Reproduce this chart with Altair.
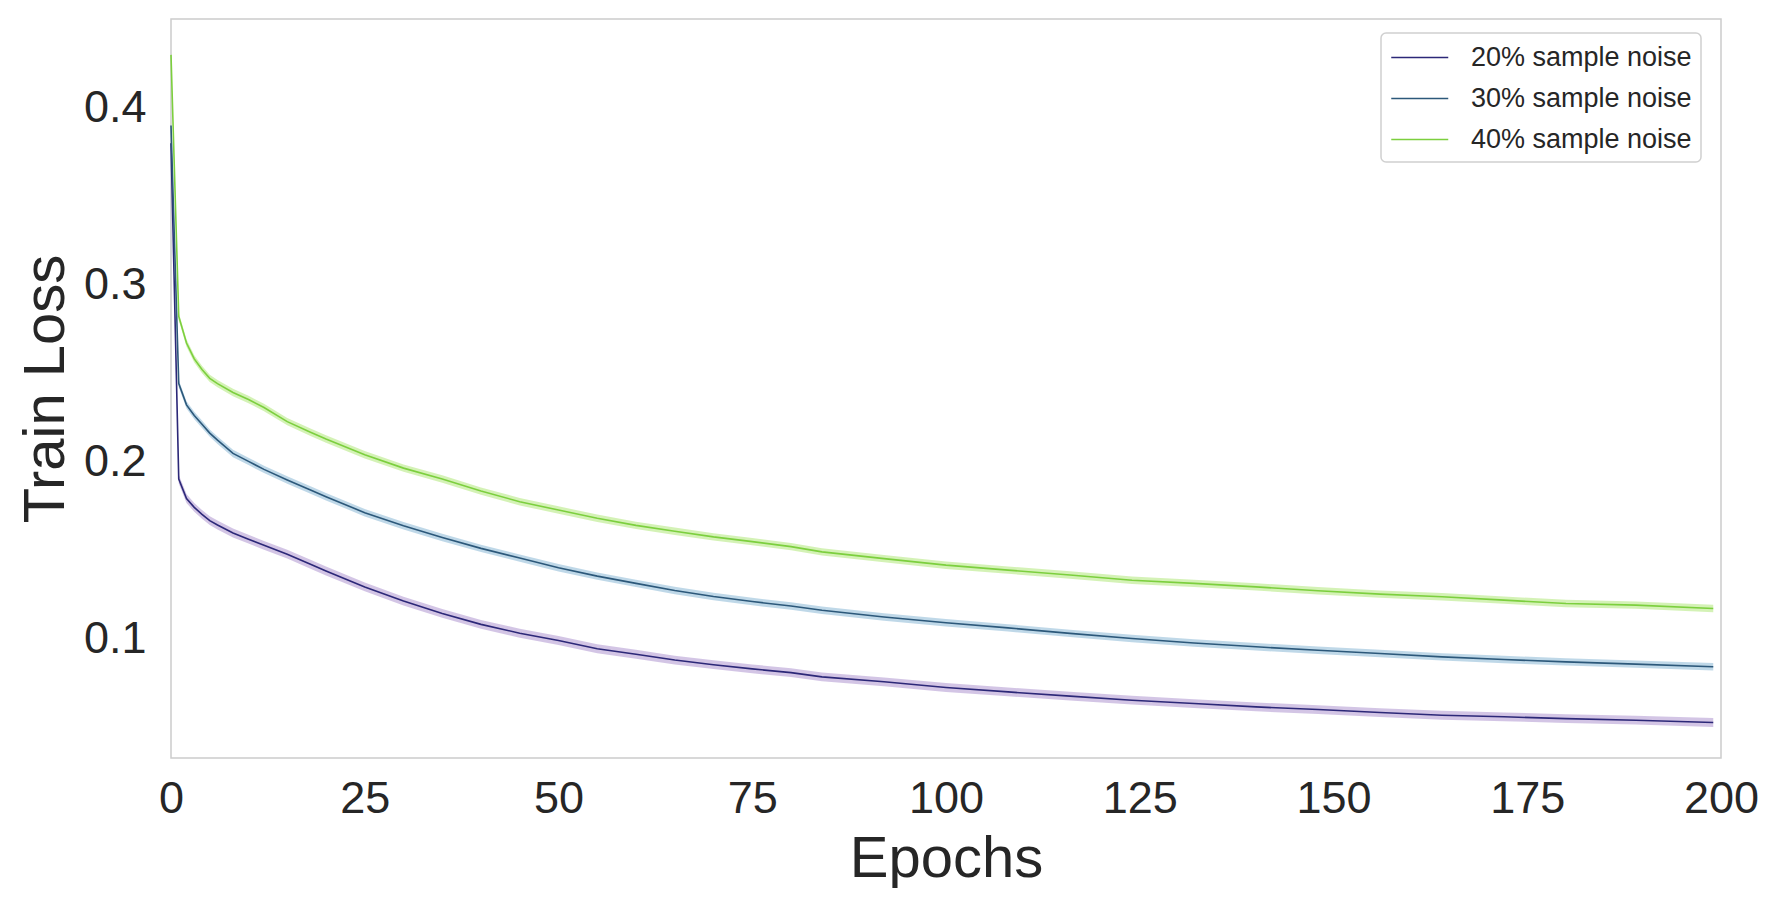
import altair as alt
import pandas as pd

# ---- data ----
series_names = ["20% sample noise", "30% sample noise", "40% sample noise"]

epochs_early = [0, 1, 2, 3, 4, 5, 6, 8, 10, 12, 15, 18, 20, 25, 30, 35, 40, 45,
                50, 55, 60, 65, 70, 75, 80]
epochs_late = [84, 92, 100, 108, 116, 124, 132, 140, 148, 156, 164, 172, 180, 189, 199]

loss20_early = [0.380, 0.190, 0.179, 0.174, 0.170, 0.1665, 0.164, 0.1595, 0.156, 0.1525,
                0.1475, 0.1418, 0.138, 0.129, 0.121, 0.114, 0.1078, 0.1028, 0.0987,
                0.0940, 0.0909, 0.0876, 0.0850, 0.0826, 0.0805]
loss30_early = [0.390, 0.244, 0.232, 0.226, 0.221, 0.216, 0.212, 0.2045, 0.200, 0.1955,
                0.1895, 0.1838, 0.180, 0.171, 0.1636, 0.157, 0.1508, 0.1453, 0.1398,
                0.1351, 0.131, 0.1270, 0.1236, 0.1207, 0.1182]
loss40_early = [0.430, 0.282, 0.267, 0.258, 0.252, 0.247, 0.244, 0.239, 0.235, 0.2305,
                0.2225, 0.2165, 0.2127, 0.2038, 0.1962, 0.190, 0.1832, 0.1772, 0.1725,
                0.1678, 0.1638, 0.1605, 0.1573, 0.1546, 0.1518]

loss20_late = [0.0781, 0.0753, 0.0721, 0.0696, 0.0672, 0.0649, 0.0630, 0.0611, 0.0596,
               0.0579, 0.0564, 0.0555, 0.0545, 0.0536, 0.0523]
loss30_late = [0.1158, 0.1120, 0.1087, 0.1058, 0.1027, 0.0998, 0.0973, 0.0951, 0.0932,
               0.0913, 0.0894, 0.0879, 0.0866, 0.0853, 0.0838]
loss40_late = [0.1488, 0.1450, 0.1413, 0.1385, 0.1357, 0.1328, 0.1310, 0.1290, 0.1268,
               0.1249, 0.1234, 0.1215, 0.1196, 0.1187, 0.1168]

band_halfwidth = [0.0025, 0.0021, 0.0021]

line_colors = ["#2c2878", "#2c587a", "#7ccf3e"]
band_colors = ["#c4b2dc", "#a9cbe0", "#c6ee9e"]

x_ticks = [0, 25, 50, 75, 100, 125, 150, 175, 200]
y_ticks = [0.1, 0.2, 0.3, 0.4]

# ---- build tables ----
epochs = epochs_early + epochs_late
all_losses = [loss20_early + loss20_late, loss30_early + loss30_late,
              loss40_early + loss40_late]
rows = []
band_frames = []
for name, losses, hw in zip(series_names, all_losses, band_halfwidth):
    part = [{"series": name, "epoch": e, "loss": v, "lo": v - hw, "hi": v + hw}
            for e, v in zip(epochs, losses)]
    rows.extend(part)
    band_frames.append(pd.DataFrame(part))
df = pd.DataFrame(rows)

FONT = "Liberation Sans"
TXT = "#262626"

x_enc = alt.X("epoch:Q",
              scale=alt.Scale(domain=[0, 200], nice=False),
              axis=alt.Axis(values=x_ticks, title="Epochs", grid=False,
                            ticks=False, domain=False, labelFontSize=45,
                            labelPadding=18, titleFontSize=58,
                            titleFontWeight="normal", titlePadding=9,
                            labelColor=TXT, titleColor=TXT, labelFont=FONT,
                            titleFont=FONT, labelFlush=False))
y_scale = alt.Scale(domain=[0.0322, 0.4503], nice=False, zero=False)
y_axis = alt.Axis(values=y_ticks, format=".1f", title="Train Loss", grid=False,
                  ticks=False, domain=False, labelFontSize=45, labelPadding=25,
                  titleFontSize=58, titleFontWeight="normal", titlePadding=8,
                  labelColor=TXT, titleColor=TXT, labelFont=FONT, titleFont=FONT,
                  labelFlush=False)

bands = []
for bdf, bc in zip(band_frames, band_colors):
    bands.append(
        alt.Chart(bdf)
        .mark_area(opacity=0.75, interpolate="linear")
        .encode(
            x=x_enc,
            y=alt.Y("lo:Q", scale=y_scale, axis=y_axis),
            y2="hi:Q",
            fill=alt.value(bc),
        )
    )

lines = alt.Chart(df).mark_line(strokeWidth=1.6).encode(
    x=x_enc,
    y=alt.Y("loss:Q", scale=y_scale, axis=y_axis),
    color=alt.Color("series:N",
                    scale=alt.Scale(domain=series_names, range=line_colors),
                    legend=alt.Legend(title=None, orient="none", legendX=1210,
                                      legendY=14, symbolType="M-1,0H3",
                                      symbolSize=812, symbolStrokeWidth=1.6,
                                      symbolFillColor="transparent",
                                      labelFontSize=27, labelFont=FONT,
                                      labelColor=TXT, labelOffset=50,
                                      rowPadding=12, padding=9,
                                      strokeColor="#d0d0d0", fillColor="white",
                                      cornerRadius=5, labelLimit=400)),
    order="epoch:Q",
)

chart = alt.layer(*bands, lines).properties(
    width=1550, height=739,
    autosize=alt.AutoSizeParams(type="none"),
    padding={"left": 163, "top": 11, "right": 40, "bottom": 130},
    background="white",
).configure_view(stroke="#cccccc", strokeWidth=1.5).configure_legend(
    strokeWidth=1.5
)

chart.save("out.html", embed_options={"renderer": "svg", "actions": False})
